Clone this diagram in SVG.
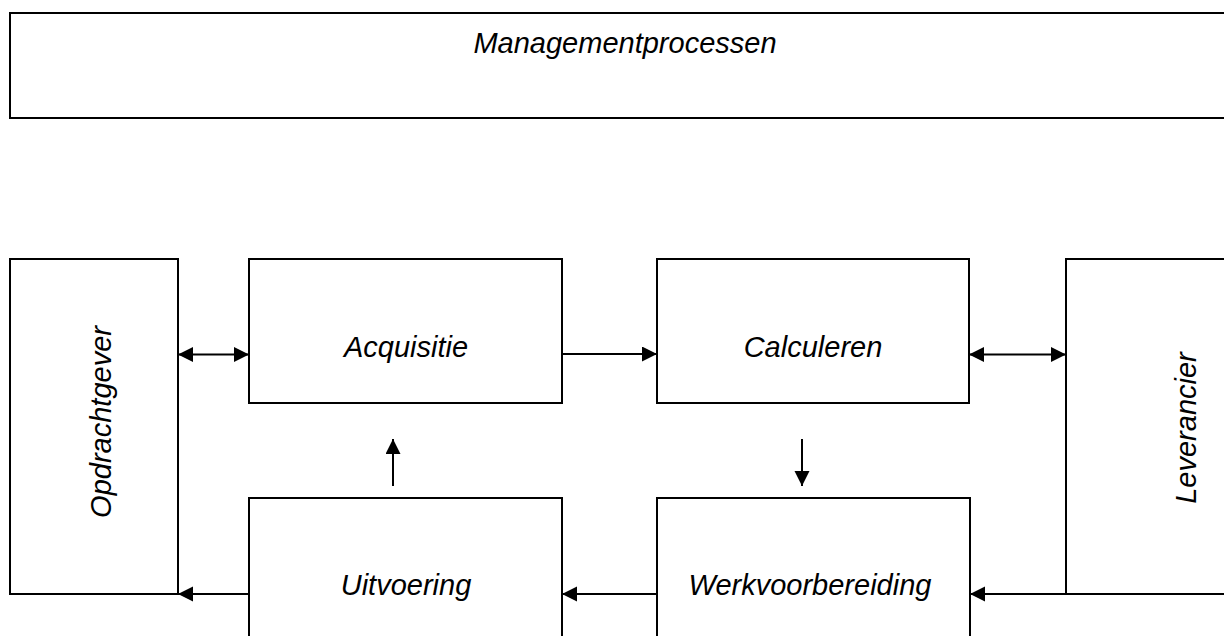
<svg xmlns="http://www.w3.org/2000/svg" width="1224" height="636" viewBox="0 0 1224 636">
<style>
.box{fill:#fff;stroke:#000;stroke-width:2}
.lbl{font-family:"Liberation Sans",Arial,sans-serif;font-style:italic;font-size:29px;fill:#000;text-anchor:middle}
.con{stroke:#000;stroke-width:2;fill:none}
</style>
<defs>
<marker id="ah" markerUnits="userSpaceOnUse" markerWidth="16" markerHeight="16" refX="15" refY="7.5" orient="auto-start-reverse">
<path d="M0,0 L15,7.5 L0,15 Z" fill="#000"/>
</marker>
</defs>
<rect width="1224" height="636" fill="#fff"/>
<g id="management">
<rect class="box" x="10" y="13" width="1230" height="105"/>
<text class="lbl" x="625" y="53">Managementprocessen</text>
</g>
<g id="opdrachtgever">
<rect class="box" x="10" y="259" width="168" height="335"/>
<text class="lbl" transform="translate(111,422) rotate(-90)">Opdrachtgever</text>
</g>
<g id="acquisitie">
<rect class="box" x="249" y="259" width="313" height="144"/>
<text class="lbl" x="406" y="357">Acquisitie</text>
</g>
<g id="calculeren">
<rect class="box" x="657" y="259" width="312" height="144"/>
<text class="lbl" x="813" y="357">Calculeren</text>
</g>
<g id="leverancier">
<rect class="box" x="1066" y="259" width="180" height="335"/>
<text class="lbl" transform="translate(1196,428) rotate(-90)">Leverancier</text>
</g>
<g id="uitvoering">
<rect class="box" x="249" y="498" width="313" height="160"/>
<text class="lbl" x="406" y="595">Uitvoering</text>
</g>
<g id="werkvoorbereiding">
<rect class="box" x="657" y="498" width="313" height="160"/>
<text class="lbl" x="810" y="595">Werkvoorbereiding</text>
</g>
<g id="connectors">
<line class="con" x1="178" y1="354.5" x2="249" y2="354.5" marker-start="url(#ah)" marker-end="url(#ah)"/>
<line class="con" x1="562" y1="354" x2="657" y2="354" marker-end="url(#ah)"/>
<line class="con" x1="969" y1="354.5" x2="1066" y2="354.5" marker-start="url(#ah)" marker-end="url(#ah)"/>
<line class="con" x1="393" y1="486" x2="393" y2="439" marker-end="url(#ah)"/>
<line class="con" x1="802" y1="439" x2="802" y2="486" marker-end="url(#ah)"/>
<line class="con" x1="1066" y1="594" x2="970" y2="594" marker-end="url(#ah)"/>
<line class="con" x1="657" y1="594" x2="562" y2="594" marker-end="url(#ah)"/>
<line class="con" x1="249" y1="594" x2="178" y2="594" marker-end="url(#ah)"/>
</g>
</svg>
